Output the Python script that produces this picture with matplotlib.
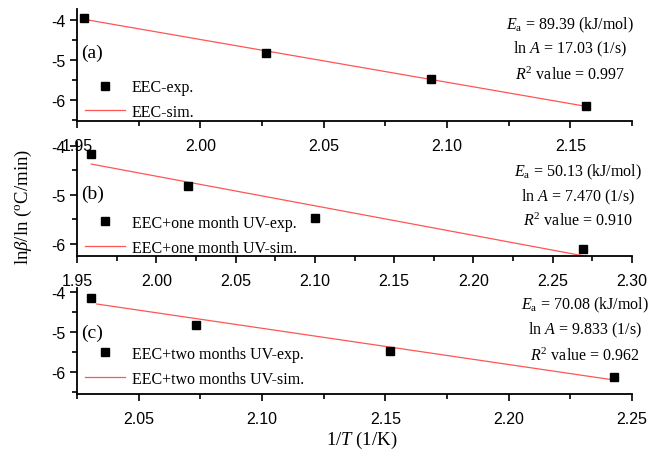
import matplotlib
matplotlib.use('Agg')
import matplotlib.pyplot as plt
from matplotlib.ticker import MultipleLocator

plt.rcParams['font.family'] = 'Liberation Serif'
plt.rcParams['mathtext.fontset'] = 'custom'
plt.rcParams['mathtext.rm'] = 'Liberation Serif'
plt.rcParams['mathtext.it'] = 'Liberation Serif:italic'

a_x = [1.9528, 2.0266, 2.0936, 2.1564]
a_y = [-3.95, -4.83, -5.48, -6.14]
b_x = [1.959, 2.0202, 2.100, 2.269]
b_y = [-4.16, -4.82, -5.47, -6.10]
c_x = [2.0306, 2.0734, 2.152, 2.2427]
c_y = [-4.15, -4.83, -5.47, -6.12]

# fitted (sim.) line end points
a_sim_x = [1.954, 2.1564]
a_sim_y = [-4.00, -6.16]
b_sim_x = [1.959, 2.269]
b_sim_y = [-4.37, -6.24]
c_sim_x = [2.033, 2.2427]
c_sim_y = [-4.30, -6.20]

panel_tags = ['(a)', '(b)', '(c)']
exp_labels = ['EEC-exp.', 'EEC+one month UV-exp.', 'EEC+two months UV-exp.']
sim_labels = ['EEC-sim.', 'EEC+one month UV-sim.', 'EEC+two months UV-sim.']
ea_vals = ['89.39', '50.13', '70.08']
lna_vals = ['17.03', '7.470', '9.833']
r2_vals = ['0.997', '0.910', '0.962']

fig = plt.figure(figsize=(6.48, 4.6), dpi=100)

W, H = 648, 460
def px_axes(top, bottom, left=77, right=632):
    return fig.add_axes([left / W, 1 - bottom / H, (right - left) / W, (bottom - top) / H])

axes = [px_axes(10, 122), px_axes(143, 257), px_axes(289, 395)]
xlims = [(1.95, 2.175), (1.95, 2.30), (2.025, 2.25)]
ylims = [(-6.525, -3.73), (-6.245, -3.92), (-6.55, -3.9)]
tag_y = [0.61, 0.55, 0.58]
# annotation block: centre x and the three line y positions, in pixels
txt_cx = [570, 578, 585]
txt_py = [(25, 49, 75), (172, 197, 221), (305, 330, 356)]
leg_anchor = [(-0.005, -0.09), (-0.005, -0.095), (-0.005, -0.035)]

data = [(a_x, a_y, a_sim_x, a_sim_y), (b_x, b_y, b_sim_x, b_sim_y), (c_x, c_y, c_sim_x, c_sim_y)]

for i, ax in enumerate(axes):
    ex, ey, sx, sy = data[i]
    ax.plot(ex, ey, 's', color='black', markersize=6, label=exp_labels[i], zorder=3)
    ax.plot(sx, sy, '-', color='#ff5555', lw=0.9, label=sim_labels[i])
    ax.set_xlim(*xlims[i])
    ax.set_ylim(*ylims[i])
    ax.spines['top'].set_visible(False)
    ax.spines['right'].set_visible(False)
    for s in ['left', 'bottom']:
        ax.spines[s].set_linewidth(1.3)
    ax.xaxis.set_major_locator(MultipleLocator(0.05))
    ax.xaxis.set_minor_locator(MultipleLocator(0.025))
    ax.yaxis.set_major_locator(MultipleLocator(1))
    ax.yaxis.set_minor_locator(MultipleLocator(0.5))
    ax.tick_params(which='major', direction='out', length=5, width=1.2)
    ax.tick_params(which='minor', direction='out', length=3.5, width=1.2)
    ax.tick_params(labelsize=11.5)
    ax.tick_params(axis='x', pad=7)
    ax.tick_params(axis='y', pad=3)
    for lab in ax.get_xticklabels() + ax.get_yticklabels():
        lab.set_fontfamily('Liberation Sans')
    ax.yaxis.set_major_formatter(matplotlib.ticker.FuncFormatter(lambda v, p: '%d' % v))
    ax.xaxis.set_major_formatter(matplotlib.ticker.FormatStrFormatter('%.2f'))
    ax.patch.set_alpha(0)

    ax.text(0.008, tag_y[i], panel_tags[i], transform=ax.transAxes, fontsize=14, va='center')

    ax.legend(loc='lower left', bbox_to_anchor=leg_anchor[i], frameon=False,
              fontsize=11.5, handlelength=2.5, handletextpad=0.4, labelspacing=0.55,
              borderpad=0.2)

    y1, y2, y3 = txt_py[i]
    cx = txt_cx[i] / W
    fig.text(cx, 1 - y1 / H, r'$E_{\rm a}$ = %s (kJ/mol)' % ea_vals[i], ha='center', va='center', fontsize=11.5)
    fig.text(cx, 1 - y2 / H, r'ln $A$ = %s (1/s)' % lna_vals[i], ha='center', va='center', fontsize=11.5)
    fig.text(cx, 1 - y3 / H, r'$R^2$ value = %s' % r2_vals[i], ha='center', va='center', fontsize=11.5)

fig.text(23 / W, 1 - 207 / H, r'ln$\beta$/ln ($^{\rm o}$C/min)', rotation=90, ha='center', va='center', fontsize=13.5)
fig.text(362 / W, 1 - 440 / H, r'1/$T$ (1/K)', ha='center', va='center', fontsize=13.5)

fig.savefig('out.png', dpi=100)
